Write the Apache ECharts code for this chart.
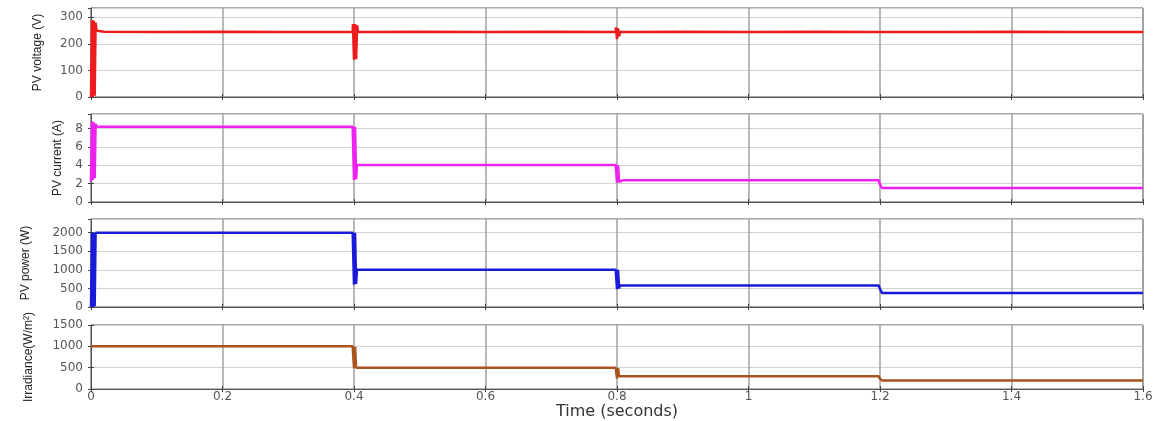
<!DOCTYPE html>
<html>
<head>
<meta charset="utf-8">
<script src="https://cdn.jsdelivr.net/npm/echarts@6/dist/echarts.min.js"></script>
<style>
html,body{margin:0;padding:0;background:#fff;}
#chart{width:1159px;height:421px;}
</style>
</head>
<body>
<div id="chart"></div>
<script>
// ---- data (time in seconds) ----
const xTicks = [0, 0.2, 0.4, 0.6, 0.8, 1, 1.2, 1.4, 1.6];

const voltT = [0,0.0014,0.0028,0.0042,0.0056,0.007,0.0085,0.012,0.02,
  0.1,0.2,0.3,
  0.398,0.3984,0.4,0.4016,0.4032,0.4048,0.406,0.41,0.42,
  0.5,0.6,0.7,
  0.798,0.7984,0.8,0.8016,0.8032,0.8045,0.81,0.82,
  0.9,1.0,1.1,1.2,1.3,1.4,1.5,1.6];
const voltV = [0,290,0,288,5,280,250,248,246,
  245,246,245,
  245,275,140,275,142,270,245,245,245,
  246,245,246,
  245,262,218,258,228,245,245,245,
  246,245,246,245,245,246,245,245];

const curT = [0,0.0014,0.0028,0.0042,0.0056,0.007,0.0085,0.012,
  0.1,0.2,0.3,
  0.398,0.3984,0.4,0.4016,0.4032,0.4045,0.41,0.42,
  0.5,0.6,0.7,
  0.798,0.7984,0.8,0.8016,0.8032,0.8045,0.81,0.82,
  0.9,1.0,1.1,
  1.198,1.1984,1.2,1.2016,1.2032,1.21,1.22,
  1.3,1.4,1.5,1.6];
const curV = [2.2,8.8,2.4,8.7,2.6,8.5,8.25,8.2,
  8.2,8.2,8.2,
  8.2,8.3,2.4,8.2,2.5,4.05,4.05,4.05,
  4.05,4.05,4.05,
  4.05,4.05,2.1,4.0,2.2,2.38,2.38,2.38,
  2.38,2.38,2.38,
  2.38,2.38,1.9,1.9,1.52,1.52,1.52,
  1.52,1.52,1.52,1.52];

const powT = [0,0.0014,0.0028,0.0042,0.0056,0.007,0.012,
  0.1,0.2,0.3,
  0.398,0.3984,0.4,0.4016,0.4032,0.4045,0.41,0.42,
  0.5,0.6,0.7,
  0.798,0.7984,0.8,0.8016,0.8032,0.8045,0.81,0.82,
  0.9,1.0,1.1,
  1.198,1.1984,1.2,1.2016,1.2032,1.21,1.22,
  1.3,1.4,1.5,1.6];
const powV = [0,2000,0,2000,20,2000,2000,
  2000,2000,2000,
  2000,2005,600,2000,620,1005,1005,1005,
  1005,1005,1005,
  1005,1005,480,1000,500,580,580,580,
  580,580,580,
  580,580,480,480,375,375,375,
  375,375,375,375];

const irrT = [0,0.1,0.2,0.3,
  0.398,0.3984,0.4,0.4016,0.4032,0.41,0.42,
  0.5,0.6,0.7,
  0.798,0.7984,0.8,0.8016,0.8032,0.81,0.82,
  0.9,1.0,1.1,
  1.198,1.1984,1.2,1.2016,1.2032,1.21,1.22,
  1.3,1.4,1.5,1.6];
const irrV = [1000,1000,1000,1000,
  1000,1000,490,990,500,500,500,
  500,500,500,
  500,500,250,490,300,300,300,
  300,300,300,
  300,300,240,215,200,200,200,
  200,200,200,200];

const panelNames = ['PV voltage (V)', 'PV current (A)', 'PV power (W)', 'Irradiance(W/m\u00B2)'];
const panelMax = [335, 9.6, 2370, 1500];
const panelInterval = [100, 2, 500, 500];
const panelColors = ['#ee1c1c', '#ee22ee', '#1a1ad8', '#a8541e'];
const xTitle = 'Time (seconds)';

// ---- layout ----
const grids = [
  {top: 8, height: 89},
  {top: 114, height: 88},
  {top: 219, height: 88},
  {top: 325, height: 68}
];
const nameGaps = [47, 27, 59, 56];

function zip(t, v){ return t.map((x,i)=>[x, v[i]]); }
const seriesData = [zip(voltT, voltV), zip(curT, curV), zip(powT, powV), zip(irrT, irrV)];

const fontTick = 'DejaVu Sans';
const gridOpt = [], xAxes = [], yAxes = [], series = [];
grids.forEach((g, i) => {
  gridOpt.push({left: 91, right: 16, top: g.top, height: g.height, show: true,
    borderColor: '#555', borderWidth: 1, backgroundColor: '#fff'});
  const last = i === grids.length - 1;
  xAxes.push({
    type: 'value', gridIndex: i, min: 0, max: 1.6, interval: 0.2, position: 'bottom',
    axisLine: {show: true, onZero: false, lineStyle: {color: '#555', width: 1}},
    axisTick: {show: true, inside: true, length: 3, lineStyle: {color: '#444'}},
    axisLabel: {show: last, margin: 2, color: '#555', fontFamily: fontTick, fontSize: 12,
      formatter: v => String(Math.round(v * 10) / 10)},
    splitLine: {show: true, lineStyle: {color: '#a0a0a0', width: 1.5}},
    name: last ? xTitle : '', nameLocation: 'middle', nameGap: 12,
    nameTextStyle: {color: '#333', fontFamily: fontTick, fontSize: 16, verticalAlign: 'top'}
  });
  xAxes.push({
    type: 'value', gridIndex: i, min: 0, max: 1.6, interval: 0.2, position: 'top',
    axisLine: {show: false}, axisTick: {show: true, inside: true, length: 3, lineStyle: {color: '#444'}},
    axisLabel: {show: false}, splitLine: {show: false}
  });
  yAxes.push({
    type: 'value', gridIndex: i, min: 0, max: panelMax[i], interval: panelInterval[i], position: 'left',
    axisLine: {show: true, lineStyle: {color: '#555', width: 1}},
    axisTick: {show: true, inside: true, length: 3, lineStyle: {color: '#444'}},
    axisLabel: {show: true, margin: 8, color: '#555', fontFamily: fontTick, fontSize: 12,
      showMaxLabel: i === 3, showMinLabel: true, formatter: v => String(v)},
    splitLine: {show: true, lineStyle: {color: '#d2d2d2', width: 1}},
    name: panelNames[i], nameLocation: 'middle', nameRotate: 90, nameGap: nameGaps[i],
    nameTextStyle: {color: '#222', fontFamily: '"Liberation Sans Narrow", "Liberation Sans", Arial, sans-serif', fontSize: 12}
  });
  yAxes.push({
    type: 'value', gridIndex: i, min: 0, max: panelMax[i], interval: panelInterval[i], position: 'right',
    axisLine: {show: false}, axisTick: {show: true, inside: true, length: 3, lineStyle: {color: '#444'}},
    axisLabel: {show: false}, splitLine: {show: false}
  });
  series.push({
    type: 'line', xAxisIndex: 2 * i, yAxisIndex: 2 * i, data: seriesData[i],
    showSymbol: false, symbol: 'none', lineStyle: {color: panelColors[i], width: 2.5},
    itemStyle: {color: panelColors[i]}, animation: false, clip: true
  });
});

const chart = echarts.init(document.getElementById('chart'));
chart.setOption({
  animation: false,
  backgroundColor: '#fff',
  grid: gridOpt,
  xAxis: xAxes,
  yAxis: yAxes,
  series: series
});
</script>
</body>
</html>
